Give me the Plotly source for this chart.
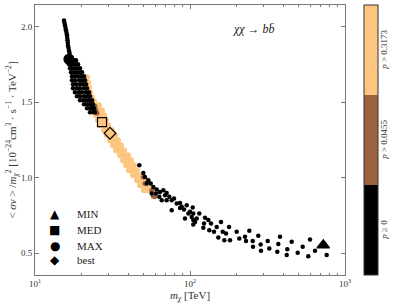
import plotly.graph_objects as go

# ---- data (m_chi [TeV], <sigma v>/m^2) ----
# p >= 0 (black)
black_m = [15.39, 15.50, 15.62, 15.73, 15.85, 15.97, 16.09, 16.14, 16.21, 16.27, 16.32, 16.44, 16.57, 16.69, 16.82, 16.94,
           16.32, 16.82, 17.32, 17.85, 18.39,
           16.57, 17.07, 17.85, 18.39, 18.94,
           16.82, 17.32, 18.11, 18.94, 19.51,
           17.07, 17.85, 18.66, 19.51, 20.10,
           17.32, 18.11, 18.94, 19.81, 20.71,
           17.32, 18.11, 19.22, 20.10, 21.02,
           17.58, 18.39, 19.51, 20.41, 21.33,
           17.58, 18.66, 19.51, 20.71, 21.65,
           18.11, 19.22, 20.10, 21.33, 22.30,
           18.66, 19.51, 20.71, 21.65, 22.64,
           19.51, 20.41, 21.33, 22.30, 23.32,
           20.71, 21.65, 22.64, 23.66,
           21.65, 22.64, 23.32, 24.03,
           22.64, 23.66, 24.38,
           47.1, 50.0, 51.2, 53.8, 55.8, 52.6, 58.0, 61.0, 64.0, 67.3, 69.0, 70.7, 73.5, 76.2, 78.9, 82.1,
           86.2, 88.4, 91.5, 95.2, 100.0, 105.0, 102.6, 110.5, 107.7, 63.4, 65.7, 56.6, 60.3, 104.1, 114.8,
           105.0, 125.0, 123.1, 131.3, 136.6, 121.9, 133.2, 142.8, 158.5, 148.7, 162.6, 178.6, 170.8, 152.3,
           166.5, 181.2, 200.1, 208.0, 226.3, 241.3, 229.8, 253.8, 275.8, 285.8, 317.2, 255.0, 287.1, 324.8,
           371.3, 380.7, 365.8, 424.4, 420.7, 453.1, 495.3, 533.4, 594.6, 579.7, 640.5, 762.0,
           70.7, 76.2, 92.8, 97.7, 105.0, 86.2]
black_sv = [2.043, 2.026, 2.010, 1.993, 1.977, 1.960, 1.944, 1.927, 1.911, 1.894, 1.877, 1.861, 1.844, 1.828, 1.811, 1.795,
            1.778, 1.778, 1.778, 1.778, 1.778,
            1.752, 1.752, 1.752, 1.752, 1.752,
            1.725, 1.725, 1.725, 1.725, 1.725,
            1.699, 1.699, 1.699, 1.699, 1.699,
            1.672, 1.672, 1.672, 1.672, 1.672,
            1.646, 1.646, 1.646, 1.646, 1.646,
            1.619, 1.619, 1.619, 1.619, 1.619,
            1.593, 1.593, 1.593, 1.593, 1.593,
            1.566, 1.566, 1.566, 1.566, 1.566,
            1.540, 1.540, 1.540, 1.540, 1.540,
            1.513, 1.513, 1.513, 1.513, 1.513,
            1.487, 1.487, 1.487, 1.487,
            1.460, 1.460, 1.460, 1.460,
            1.434, 1.434, 1.434,
            1.083, 1.032, 1.005, 0.983, 0.962, 0.962, 0.939, 0.922, 0.906, 0.917, 0.884, 0.899, 0.873, 0.851, 0.862, 0.829,
            0.833, 0.807, 0.789, 0.818, 0.774, 0.763, 0.740, 0.730, 0.707, 0.873, 0.851, 0.895, 0.895, 0.803, 0.763,
            0.690, 0.734, 0.697, 0.719, 0.697, 0.668, 0.652, 0.641, 0.707, 0.674, 0.641, 0.674, 0.630, 0.604,
            0.586, 0.586, 0.641, 0.597, 0.608, 0.648, 0.581, 0.581, 0.615, 0.558, 0.581, 0.542, 0.515, 0.531,
            0.560, 0.608, 0.509, 0.525, 0.487, 0.575, 0.502, 0.542, 0.591, 0.480, 0.515, 0.487,
            0.851, 0.785, 0.730, 0.763, 0.719, 0.800]

# p > 0.0455 (brown)
brown_m = [24.38, 24.74, 25.12, 23.66, 50.0, 51.2, 58.0, 59.1, 56.6]
brown_sv = [1.473, 1.447, 1.427, 1.460, 1.005, 0.962, 0.877, 0.873, 0.917]

# p > 0.3173 (orange)
orange_m = [21.65, 21.98, 22.30, 22.64, 23.32, 24.03,
            22.98, 24.38, 25.87, 24.03, 25.50, 27.06, 24.74, 26.26, 27.87, 25.50, 27.06, 28.72,
            26.26, 27.87, 29.58, 27.87, 29.58, 31.39, 29.14, 30.93, 32.82, 30.47, 32.34, 34.32,
            31.86, 33.81, 35.88, 33.32, 35.36, 37.52, 35.36, 37.52, 39.81, 36.96, 39.23, 41.64,
            38.65, 41.02, 43.53, 40.42, 42.89, 45.51, 42.89, 45.51, 48.30, 45.51, 48.30, 51.26,
            47.58, 50.49, 53.58, 50.49, 53.58, 56.86]
orange_sv = [1.666, 1.632, 1.599, 1.566, 1.533, 1.507,
             1.480, 1.480, 1.480, 1.447, 1.447, 1.447, 1.414, 1.414, 1.414, 1.381, 1.381, 1.381,
             1.348, 1.348, 1.348, 1.315, 1.315, 1.315, 1.281, 1.281, 1.281, 1.248, 1.248, 1.248,
             1.215, 1.215, 1.215, 1.182, 1.182, 1.182, 1.149, 1.149, 1.149, 1.116, 1.116, 1.116,
             1.083, 1.083, 1.083, 1.050, 1.050, 1.050, 1.017, 1.017, 1.017, 0.983, 0.983, 0.983,
             0.950, 0.950, 0.950, 0.917, 0.917, 0.917]

# special points
special_names = ["MIN", "MED", "MAX", "best"]
special_m = [724.0, 27.06, 16.57, 30.47]
special_sv = [0.553, 1.368, 1.785, 1.295]
legend_glyphs = ["▲", "■", "●", "◆"]

p_labels = ["<i>p</i> ≥ 0", "<i>p</i> > 0.0455", "<i>p</i> > 0.3173"]
x_ticks = [10, 100, 1000]
x_ticktext = ["10<sup>1</sup>", "10<sup>2</sup>", "10<sup>3</sup>"]
y_ticks = [0.5, 1.0, 1.5, 2.0]

ORANGE = "#FDC680"
BROWN = "#9C6340"
BLACK = "#000000"
FONT = "Liberation Serif"

colorscale = [[0, BLACK], [1/3, BLACK], [1/3, BROWN], [2/3, BROWN], [2/3, ORANGE], [1, ORANGE]]

fig = go.Figure()
fig.add_trace(go.Scatter(x=orange_m, y=orange_sv, mode="markers", showlegend=False,
                         marker=dict(size=6, color=[2.5] * len(orange_m), coloraxis="coloraxis", line=dict(width=0))))
fig.add_trace(go.Scatter(x=brown_m, y=brown_sv, mode="markers", showlegend=False,
                         marker=dict(size=5, color=[1.5] * len(brown_m), coloraxis="coloraxis", line=dict(width=0))))
fig.add_trace(go.Scatter(x=black_m, y=black_sv, mode="markers", showlegend=False,
                         marker=dict(size=4.5, color=[0.5] * len(black_m), coloraxis="coloraxis", line=dict(width=0))))

symbols = ["triangle-up", "square-open", "circle", "diamond-open"]
sizes = [11, 9, 10, 9]
for i, name in enumerate(special_names):
    fig.add_trace(go.Scatter(x=[special_m[i]], y=[special_sv[i]], mode="markers", showlegend=False, name=name,
                             marker=dict(symbol=symbols[i], size=sizes[i], color="black",
                                         line=dict(width=1.2, color="black"))))

annotations = [dict(x=0.78, y=0.945, xref="paper", yref="paper",
                    text="<i>χχ</i> → <i>b</i><i>b̄</i>", showarrow=False,
                    font=dict(family=FONT, size=12, color="#222"))]
# manual legend (text glyphs + labels)
leg_y = [0.226, 0.167, 0.108, 0.056]
for i, name in enumerate(special_names):
    annotations.append(dict(x=0.064, y=leg_y[i], xref="paper", yref="paper", text=legend_glyphs[i],
                            showarrow=False, xanchor="center", yanchor="middle",
                            font=dict(family="DejaVu Sans", size=12, color="black")))
    annotations.append(dict(x=0.128, y=leg_y[i], xref="paper", yref="paper", text=name,
                            showarrow=False, xanchor="left", yanchor="middle",
                            font=dict(family=FONT, size=11, color="#222")))
# colorbar labels (rotated)
cb_y = [1/6, 0.5, 5/6]
for i, lab in enumerate(p_labels):
    annotations.append(dict(x=1.125, y=cb_y[i], xref="paper", yref="paper", text=lab, textangle=-90,
                            showarrow=False, xanchor="center", yanchor="middle",
                            font=dict(family=FONT, size=9, color="#333")))

fig.update_layout(
    width=396, height=307,
    margin=dict(l=35, r=51, t=5, b=32, autoexpand=False),
    plot_bgcolor="white", paper_bgcolor="white",
    font=dict(family=FONT, size=9, color="#333"),
    showlegend=False,
    coloraxis=dict(
        colorscale=colorscale, cmin=0, cmax=3,
        colorbar=dict(
            x=1.061, xanchor="left", xpad=0, ypad=0, y=0.5, yanchor="middle", len=1.0, lenmode="fraction",
            thickness=14, outlinewidth=1, outlinecolor="#333",
            tickmode="array", tickvals=[0.5, 1.5, 2.5], showticklabels=False, ticks="",
        ),
    ),
    annotations=annotations,
)
fig.update_xaxes(type="log", range=[1, 3], tickvals=x_ticks, ticktext=x_ticktext, automargin=False,
                 showline=True, linecolor="#777", linewidth=1, mirror="ticks",
                 ticks="inside", ticklen=4, tickcolor="#777", showgrid=False, zeroline=False,
                 minor=dict(ticks="inside", ticklen=2, tickcolor="#777", dtick="D1", showgrid=False),
                 title=dict(text="<i>m</i><sub><i>χ</i></sub> [TeV]", font=dict(family=FONT, size=11), standoff=3))
fig.update_yaxes(range=[0.355, 2.145], tickvals=y_ticks, tickformat=".1f", automargin=False,
                 showline=True, linecolor="#777", linewidth=1, mirror="ticks",
                 ticks="inside", ticklen=4, tickcolor="#777", showgrid=False, zeroline=False,
                 title=dict(text="< <i>σv</i> > /<i>m</i><sub><i>χ</i></sub><sup>2</sup> [10<sup>−24</sup>cm<sup>3</sup> · s<sup>−1</sup> · TeV<sup>−2</sup>]",
                            font=dict(family=FONT, size=11), standoff=2))

fig.write_html("out.html", config={"displayModeBar": False},
               post_script="document.body.style.margin='0px';")
